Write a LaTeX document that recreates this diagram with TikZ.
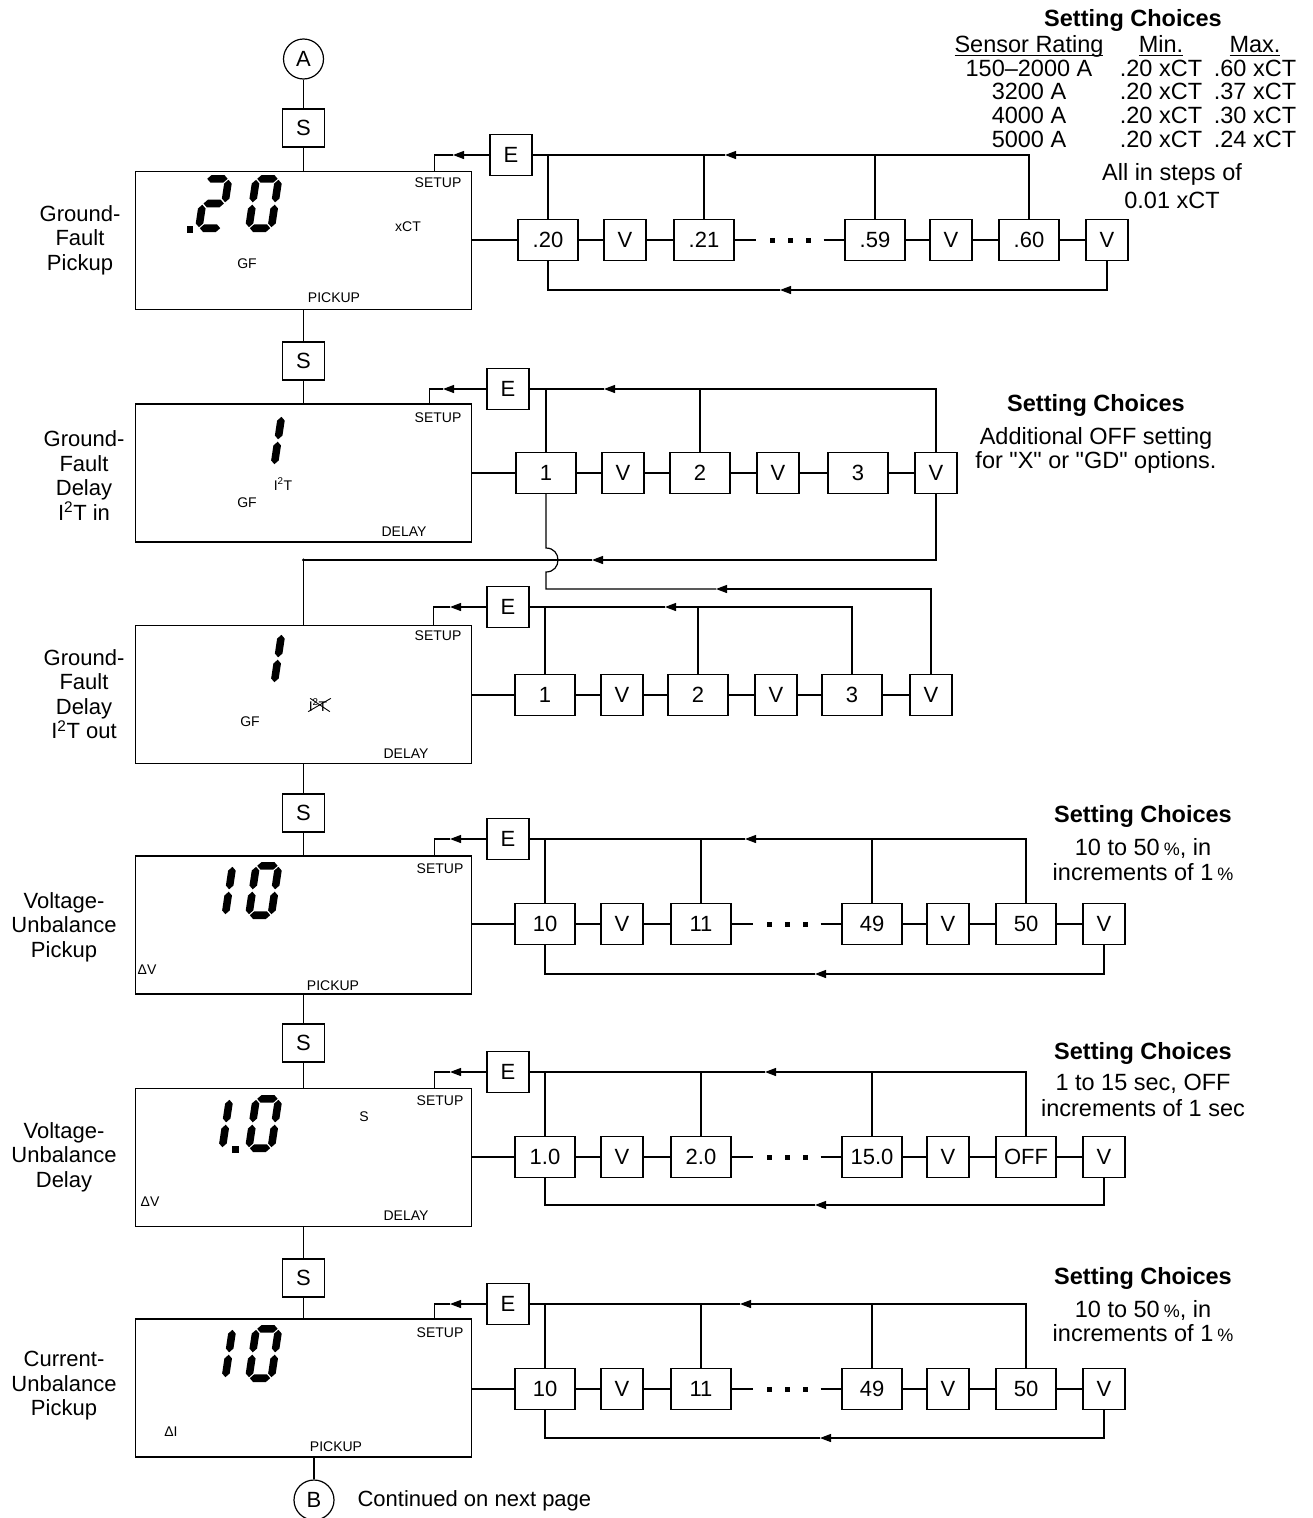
\documentclass[tikz,border=0pt]{standalone}
\usepackage{fontspec}
\setmainfont{Liberation Sans}
\usetikzlibrary{arrows.meta,positioning}
\newcommand{\lbl}{\fontsize{22}{24.5}\selectfont}
\newcommand{\lcdtxt}{\fontsize{14}{16}\selectfont}
\newcommand{\chtxt}{\fontsize{23.5}{25}\selectfont}
\newcommand{\threedots}{\rule{5pt}{5pt}\hspace{13pt}\rule{5pt}{5pt}\hspace{13pt}\rule{5pt}{5pt}}
\newcommand{\ulin}[1]{\setbox0\hbox{#1}\rlap{\rule[-3.5pt]{\wd0}{1.1pt}}\box0}
% segments of the LCD digits
\newcommand{\hseg}[3]{\fill (#1,#3) -- ({#1+3.8},{#3-3.8}) -- ({#2-3.8},{#3-3.8}) -- (#2,#3) -- ({#2-3.8},{#3+3.8}) -- ({#1+3.8},{#3+3.8}) -- cycle;}
\newcommand{\vseg}[3]{\fill (#1,#2) -- ({#1+3.8},{#2+3.8}) -- ({#1+3.8},{#3-3.8}) -- (#1,#3) -- ({#1-3.8},{#3-3.8}) -- ({#1-3.8},{#2+3.8}) -- cycle;}
\newcommand{\lcdseg}[1]{\ifcase#1\relax
  \hseg{4.8}{25.2}{3.8}\or \vseg{26.2}{4.8}{27.3}\or \vseg{26.2}{29.7}{52.2}\or
  \hseg{4.8}{25.2}{53.2}\or \vseg{3.8}{29.7}{52.2}\or \vseg{3.8}{4.8}{27.3}\or
  \hseg{4.8}{25.2}{28.5}\fi}
\newcommand{\lcddigit}[3]{\begin{scope}[shift={(#1,#2)}, xslant=0.15]
  \foreach \s in {#3} {\lcdseg{\s}}\end{scope}}

\begin{document}
\begin{tikzpicture}[x=1pt, y=-1pt, line width=1.2pt,
    lcd/.style={draw, line width=1.4pt, minimum width=336, minimum height=138, inner sep=0},
    key/.style={draw, line width=1.4pt, minimum width=42, minimum height=41, inner sep=0, font=\lbl},
    skey/.style={key, minimum height=38},
    val/.style={key, minimum width=60},
    dotrow/.style={inner sep=0, minimum width=66, minimum height=10},
    lcdlbl/.style={inner sep=0, font=\lcdtxt},
    rowlbl/.style={align=center, font=\lbl, inner sep=0},
    chead/.style={anchor=base, inner sep=0, font=\chtxt\bfseries},
    cbody/.style={anchor=base, inner sep=0, font=\chtxt},
    arr/.style={-{Triangle[length=11pt,width=8pt]}}
  ]
  \useasboundingbox (0,0) rectangle (1313,1518);
  % displays and step keys
  \node[circle, draw, minimum size=40, inner sep=0, font=\lbl] (ca) at (303.5,59) {A};
  \node[skey] (s1) at (303.5,128) {S};
  \node[lcd] (d1) at (303.5,240.5) {};
  \node[skey] (s2) at (303.5,361) {S};
  \node[lcd] (d2) at (303.5,473) {};
  \node[lcd] (d3) at (303.5,694.5) {};
  \node[skey] (s3) at (303.5,813) {S};
  \node[lcd] (d4) at (303.5,925) {};
  \node[skey] (s4) at (303.5,1043) {S};
  \node[lcd] (d5) at (303.5,1157.5) {};
  \node[skey] (s5) at (303.5,1278) {S};
  \node[lcd] (d6) at (303.5,1388) {};
  \node[circle, draw, minimum size=40, inner sep=0, font=\lbl] (cb) at (314,1500) {B};
  \node[anchor=west, inner sep=0, font=\lbl] (cont) at (357,1501) {Continued on next page};
  \draw (ca) -- (s1) -- (d1) -- (s2) -- (d2);
  \draw (d3) -- (s3) -- (d4) -- (s4) -- (d5) -- (s5) -- (d6);
  \draw (cb.north) -- (cb.north |- d6.south);

  % row labels
  \node[rowlbl] (l1) at (80,240) {Ground-\\Fault\\Pickup};
  \node[rowlbl] (l2) at (84,475.5) {Ground-\\Fault\\Delay\\I\textsuperscript{2}T in};
  \node[rowlbl] (l3) at (84,694) {Ground-\\Fault\\Delay\\I\textsuperscript{2}T out};
  \node[rowlbl] (l4) at (64,927) {Voltage-\\Unbalance\\Pickup};
  \node[rowlbl] (l5) at (64,1157) {Voltage-\\Unbalance\\Delay};
  \node[rowlbl] (l6) at (64,1386) {Current-\\Unbalance\\Pickup};

  % LCD contents
  \lcddigit{203}{175}{0,1,6,4,3}
  \lcddigit{253}{175}{0,1,2,3,4,5}
  \fill (187,226) rectangle (193,233);
  \lcddigit{256}{412}{1,2}
  \lcddigit{256}{630}{1,2}
  \lcddigit{207}{862}{1,2}
  \lcddigit{253}{862}{0,1,2,3,4,5}
  \lcddigit{204}{1095}{1,2}
  \fill (232,1146) rectangle (239,1153);
  \lcddigit{253}{1095}{0,1,2,3,4,5}
  \lcddigit{207}{1325}{1,2}
  \lcddigit{253}{1325}{0,1,2,3,4,5}
  \foreach \i/\sy in {1/183,2/418,3/636} \node[lcdlbl] (su\i) at (438,\sy) {SETUP};
  \foreach \i/\sy in {4/869,5/1101,6/1333} \node[lcdlbl] (su\i) at (440,\sy) {SETUP};
  \node[lcdlbl] (xct) at (408,227) {xCT};
  \node[lcdlbl] (gf1) at (247,264) {GF};
  \node[lcdlbl] (pk1) at (334,298) {PICKUP};
  \node[lcdlbl] (it2) at (283,484) {I\textsuperscript{2}T};
  \node[lcdlbl] (gf2) at (247,503) {GF};
  \node[lcdlbl] (dl2) at (404,532) {DELAY};
  \node[lcdlbl] (it3) at (318,705) {I\textsuperscript{2}T};
  \draw[line width=0.9pt] (it3.south west) -- ([xshift=3pt]it3.north east);
  \draw[line width=0.9pt] ([xshift=2pt]it3.north west) -- ([xshift=2pt]it3.south east);
  \node[lcdlbl] (gf3) at (250,722) {GF};
  \node[lcdlbl] (dl3) at (406,754) {DELAY};
  \node[lcdlbl] (dv4) at (147,970) {ΔV};
  \node[lcdlbl] (pk4) at (333,986) {PICKUP};
  \node[lcdlbl] (sec5) at (364,1117) {S};
  \node[lcdlbl] (dv5) at (150,1202) {ΔV};
  \node[lcdlbl] (dl5) at (406,1216) {DELAY};
  \node[lcdlbl] (di6) at (171,1432) {ΔI};
  \node[lcdlbl] (pk6) at (336,1447) {PICKUP};

  % rows with a range of values
  \foreach \r/\dx/\ry/\ey/\by/\tx/\bx/\va/\vb/\vc/\vd in {
      1/3/240/155/290/725/780/.20/.21/.59/.60,
      4/0/924/839/974/745/815/10/11/49/50,
      5/0/1157/1072/1205/765/815/1.0/2.0/15.0/OFF,
      6/0/1389/1304/1438/740/820/10/11/49/50} {
    \node[val] (r\r-n1) at ({545+\dx},\ry) {\va};
    \node[key] (r\r-k1) at ({622+\dx},\ry) {V};
    \node[val] (r\r-n2) at ({701+\dx},\ry) {\vb};
    \node[dotrow] (r\r-dt) at ({787+\dx},\ry) {\threedots};
    \node[val] (r\r-n3) at ({872+\dx},\ry) {\vc};
    \node[key] (r\r-k2) at ({948+\dx},\ry) {V};
    \node[val] (r\r-n4) at ({1026+\dx},\ry) {\vd};
    \node[key] (r\r-k3) at ({1104+\dx},\ry) {V};
    \node[key] (r\r-e) at ({508+\dx},\ey) {E};
    \coordinate (r\r-ta) at (\tx,\ey);
    \coordinate (r\r-ba) at (\bx,\by);
    \coordinate (r\r-sa) at ({450+\dx},\ey);
    \draw (d\r.east |- r\r-n1) -- (r\r-n1) -- (r\r-k1) -- (r\r-n2) -- (r\r-dt)
      -- (r\r-n3) -- (r\r-k2) -- (r\r-n4) -- (r\r-k3);
    \draw[arr] (r\r-n4.north) |- (r\r-ta);
    \draw (r\r-ta) -- (r\r-e);
    \foreach \n in {1,2,3} \draw (r\r-n\n.north) -- (r\r-n\n.north |- r\r-e);
    \draw[arr] (r\r-k3.south) |- (r\r-ba);
    \draw (r\r-ba) -| (r\r-n1.south);
    \draw[arr] (r\r-e) -- (r\r-sa);
    \draw (r\r-sa) -| ([xshift=-38pt]d\r.north east);
  }

  % delay rows
  \foreach \n/\x/\t in {1/546/1,2/700/2,3/858/3} \node[val] (r2-n\n) at (\x,473) {\t};
  \foreach \n/\x in {1/623,2/778,3/936} \node[key] (r2-k\n) at (\x,473) {V};
  \node[key] (r2-e) at (508,389) {E};
  \foreach \n/\x/\t in {1/545/1,2/698/2,3/852/3} \node[val] (r3-n\n) at (\x,695) {\t};
  \foreach \n/\x in {1/622,2/776,3/931} \node[key] (r3-k\n) at (\x,695) {V};
  \node[key] (r3-e) at (508,607) {E};
  \coordinate (r2-ta) at (604,389);
  \coordinate (r2-sa) at (443,389);
  \coordinate (r2-la) at (592,560);
  \coordinate (r2-c) at (303.5,560);
  \coordinate (r2-hb) at (546,572);
  \coordinate (r2-ht) at (546,548);
  \coordinate (r3-ta) at (665,607);
  \coordinate (r3-sa) at (450,607);
  \coordinate (r3-la) at (716,589);
  \draw (d2.east |- r2-n1) -- (r2-n1) -- (r2-k1) -- (r2-n2) -- (r2-k2) -- (r2-n3) -- (r2-k3);
  \draw[arr] (r2-k3.north) |- (r2-ta);
  \draw (r2-ta) -- (r2-e);
  \foreach \n in {1,2} \draw (r2-n\n.north) -- (r2-n\n.north |- r2-e);
  \draw[arr] (r2-e) -- (r2-sa);
  \draw (r2-sa) -| ([xshift=-43pt]d2.north east);
  \draw[arr] (r2-k3.south) |- (r2-la);
  \draw (r2-la) -- (r2-c) -- (d3.north);
  \fill (r2-c) circle (1.6pt);
  \draw[arr] (r3-k3.north) |- (r3-la);
  \draw (r3-la) -| (r2-hb) .. controls +(16,0) and +(16,0) .. (r2-ht) -- (r2-n1.south);
  \draw (d3.east |- r3-n1) -- (r3-n1) -- (r3-k1) -- (r3-n2) -- (r3-k2) -- (r3-n3) -- (r3-k3);
  \draw[arr] (r3-n3.north) |- (r3-ta);
  \draw (r3-ta) -- (r3-e);
  \foreach \n in {1,2} \draw (r3-n\n.north) -- (r3-n\n.north |- r3-e);
  \draw[arr] (r3-e) -- (r3-sa);
  \draw (r3-sa) -| ([xshift=-39pt]d3.north east);

  % setting choices
  \node[chead] (ch1) at (1133,26.5) {Setting Choices};
  \node[cbody] (hsr) at (1029,52.5) {\ulin{Sensor Rating}};
  \node[cbody] (hmn) at (1161,52.5) {\ulin{Min.}};
  \node[cbody] (hmx) at (1255,52.5) {\ulin{Max.}};
  \foreach \i/\yy/\sr/\mx in {1/76.5/150--2000 A/.60, 2/99.5/3200 A/.37,
      3/123.5/4000 A/.30, 4/147.5/5000 A/.24} {
    \node[cbody] (sr\i) at (1029,\yy) {\sr};
    \node[cbody] (mn\i) at (1161,\yy) {.20 xCT};
    \node[cbody] (mx\i) at (1255,\yy) {\mx\ xCT};
  }
  \node[cbody] (st1) at (1172,180.5) {All in steps of};
  \node[cbody] (st2) at (1172,208.5) {0.01 xCT};
  \node[chead] (ch2) at (1096,411.5) {Setting Choices};
  \node[cbody] (ad1) at (1096,444.5) {Additional OFF setting};
  \node[cbody] (ad2) at (1096,468.5) {for \textquotedbl X\textquotedbl\ or \textquotedbl GD\textquotedbl\ options.};
  \node[chead] (ch4) at (1143,822.5) {Setting Choices};
  \node[cbody] (vp1) at (1143,855.5) {10 to 50\,{\fontsize{18}{18}\selectfont\%}, in};
  \node[cbody] (vp2) at (1143,880.5) {increments of 1\,{\fontsize{18}{18}\selectfont\%}};
  \node[chead] (ch5) at (1143,1059.5) {Setting Choices};
  \node[cbody] (vd1) at (1143,1090.5) {1 to 15 sec, OFF};
  \node[cbody] (vd2) at (1143,1116.5) {increments of 1 sec};
  \node[chead] (ch6) at (1143,1284.5) {Setting Choices};
  \node[cbody] (cp1) at (1143,1317.5) {10 to 50\,{\fontsize{18}{18}\selectfont\%}, in};
  \node[cbody] (cp2) at (1143,1341.5) {increments of 1\,{\fontsize{18}{18}\selectfont\%}};
\end{tikzpicture}
\end{document}
